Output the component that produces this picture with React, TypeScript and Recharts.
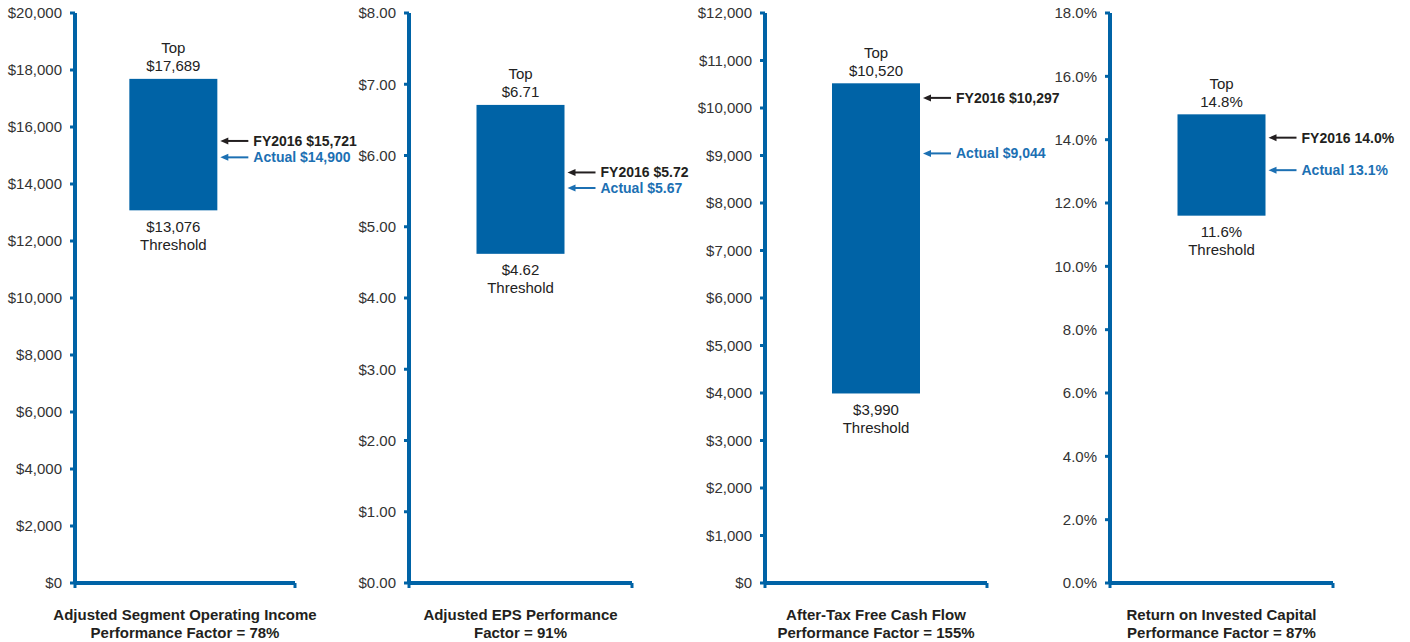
import { Bar, ComposedChart, Scatter, XAxis, YAxis } from "recharts";

const BLUE = "#0063a6";
const ACTUAL_BLUE = "#1c70b3";
const INK = "#231f20";
const BAR_W = 88;
const FONT = '"Liberation Sans", Arial, Helvetica, sans-serif';

// one entry per panel
const titles = [
  ["Adjusted Segment Operating Income", "Performance Factor = 78%"],
  ["Adjusted EPS Performance", "Factor = 91%"],
  ["After-Tax Free Cash Flow", "Performance Factor = 155%"],
  ["Return on Invested Capital", "Performance Factor = 87%"],
];
const thresholds = [13076, 4.62, 3990, 11.6];
const tops = [17689, 6.71, 10520, 14.8];
const fy2016 = [15721, 5.72, 10297, 14.0];
const actuals = [14900, 5.67, 9044, 13.1];

const ticks1 = [0, 2000, 4000, 6000, 8000, 10000, 12000, 14000, 16000, 18000, 20000];
const ticks2 = [0, 1, 2, 3, 4, 5, 6, 7, 8];
const ticks3 = [0, 1000, 2000, 3000, 4000, 5000, 6000, 7000, 8000, 9000, 10000, 11000, 12000];
const ticks4 = [0, 2, 4, 6, 8, 10, 12, 14, 16, 18];
const yTicks = [ticks1, ticks2, ticks3, ticks4];

const dollars = (v: number) => "$" + v.toLocaleString("en-US");
const cents = (v: number) => "$" + v.toFixed(2);
const pct = (v: number) => v.toFixed(1) + "%";
const formatters = [dollars, cents, dollars, pct];

// layout
const axisX = [75, 409, 765, 1110];
const axisLen = [220, 223, 222, 223];
const barAt = [0.447, 0.5, 0.5, 0.5];
const fyNudge = [6, -3, 4, -2];
const actualNudge = [-1, 9, 0, 2];

const RangeBar = (props: any) => {
  const { x, y, width, height, fmt, low, high } = props;
  const top = Math.min(y, y + height);
  const bottom = Math.max(y, y + height);
  const cx = x + width / 2;
  const t = { textAnchor: "middle" as const, dominantBaseline: "central" as const, fontSize: 15, fill: "#222" };
  return (
    <g>
      <rect x={x} y={top} width={width} height={bottom - top} fill={BLUE} />
      <text x={cx} y={top - 31} {...t}>Top</text>
      <text x={cx} y={top - 13} {...t}>{fmt(high)}</text>
      <text x={cx} y={bottom + 16} {...t}>{fmt(low)}</text>
      <text x={cx} y={bottom + 34} {...t}>Threshold</text>
    </g>
  );
};

const Marker = (props: any) => {
  const { cx, cy, payload } = props;
  const y = cy + payload.dy;
  const x0 = cx + BAR_W / 2 + 3;
  return (
    <g>
      <line x1={x0 + 5} y1={y} x2={x0 + 28} y2={y} stroke={payload.color} strokeWidth={2} />
      <polygon points={`${x0},${y} ${x0 + 8},${y - 3.5} ${x0 + 8},${y + 3.5}`} fill={payload.color} />
      <text x={x0 + 33} y={y} dominantBaseline="central" fontSize={14} fontWeight="bold" fill={payload.color}>
        {payload.text}
      </text>
    </g>
  );
};

function Panel({ i }: { i: number }) {
  const fmt = formatters[i];
  const ticks = yTicks[i];
  const data = [{ x: barAt[i], range: [thresholds[i], tops[i]] }];
  const markers = [
    { x: barAt[i], y: fy2016[i], text: "FY2016 " + fmt(fy2016[i]), color: INK, dy: fyNudge[i] },
    { x: barAt[i], y: actuals[i], text: "Actual " + fmt(actuals[i]), color: ACTUAL_BLUE, dy: actualNudge[i] },
  ];
  return (
    <div style={{ position: "absolute", left: axisX[i] - 75, top: 0 }}>
      <ComposedChart
        width={75 + axisLen[i] + 150}
        height={600}
        data={data}
        margin={{ top: 13, right: 150, bottom: 0, left: 0 }}
      >
        <XAxis
          type="number"
          dataKey="x"
          domain={[0, 1]}
          ticks={[0, 1]}
          tickFormatter={() => ""}
          height={17}
          tickSize={5}
          axisLine={{ stroke: BLUE, strokeWidth: 4 }}
          tickLine={{ stroke: BLUE, strokeWidth: 3 }}
        />
        <YAxis
          type="number"
          width={75}
          domain={[0, ticks[ticks.length - 1]]}
          ticks={ticks}
          interval={0}
          tickFormatter={fmt}
          tickSize={5}
          tickMargin={8}
          tick={{ fill: "#333", fontSize: 15 }}
          axisLine={{ stroke: BLUE, strokeWidth: 4 }}
          tickLine={{ stroke: BLUE, strokeWidth: 3 }}
        />
        <Bar
          dataKey="range"
          barSize={BAR_W}
          fill={BLUE}
          isAnimationActive={false}
          shape={(p: any) => <RangeBar {...p} fmt={fmt} low={thresholds[i]} high={tops[i]} />}
        />
        <Scatter data={markers} dataKey="y" isAnimationActive={false} shape={(p: any) => <Marker {...p} />} />
      </ComposedChart>
      <div
        style={{
          position: "absolute",
          left: 75 + axisLen[i] / 2 - 200,
          width: 400,
          top: 606,
          textAlign: "center",
          fontWeight: "bold",
          fontSize: 15,
          lineHeight: "18px",
          color: "#231f20",
          whiteSpace: "nowrap",
        }}
      >
        <div>{titles[i][0]}</div>
        <div>{titles[i][1]}</div>
      </div>
    </div>
  );
}

export default function App() {
  return (
    <div
      style={{
        position: "absolute",
        left: 0,
        top: 0,
        width: 1410,
        height: 642,
        background: "#fff",
        fontFamily: FONT,
        overflow: "hidden",
      }}
    >
      {[0, 1, 2, 3].map((i) => (
        <Panel key={i} i={i} />
      ))}
    </div>
  );
}
